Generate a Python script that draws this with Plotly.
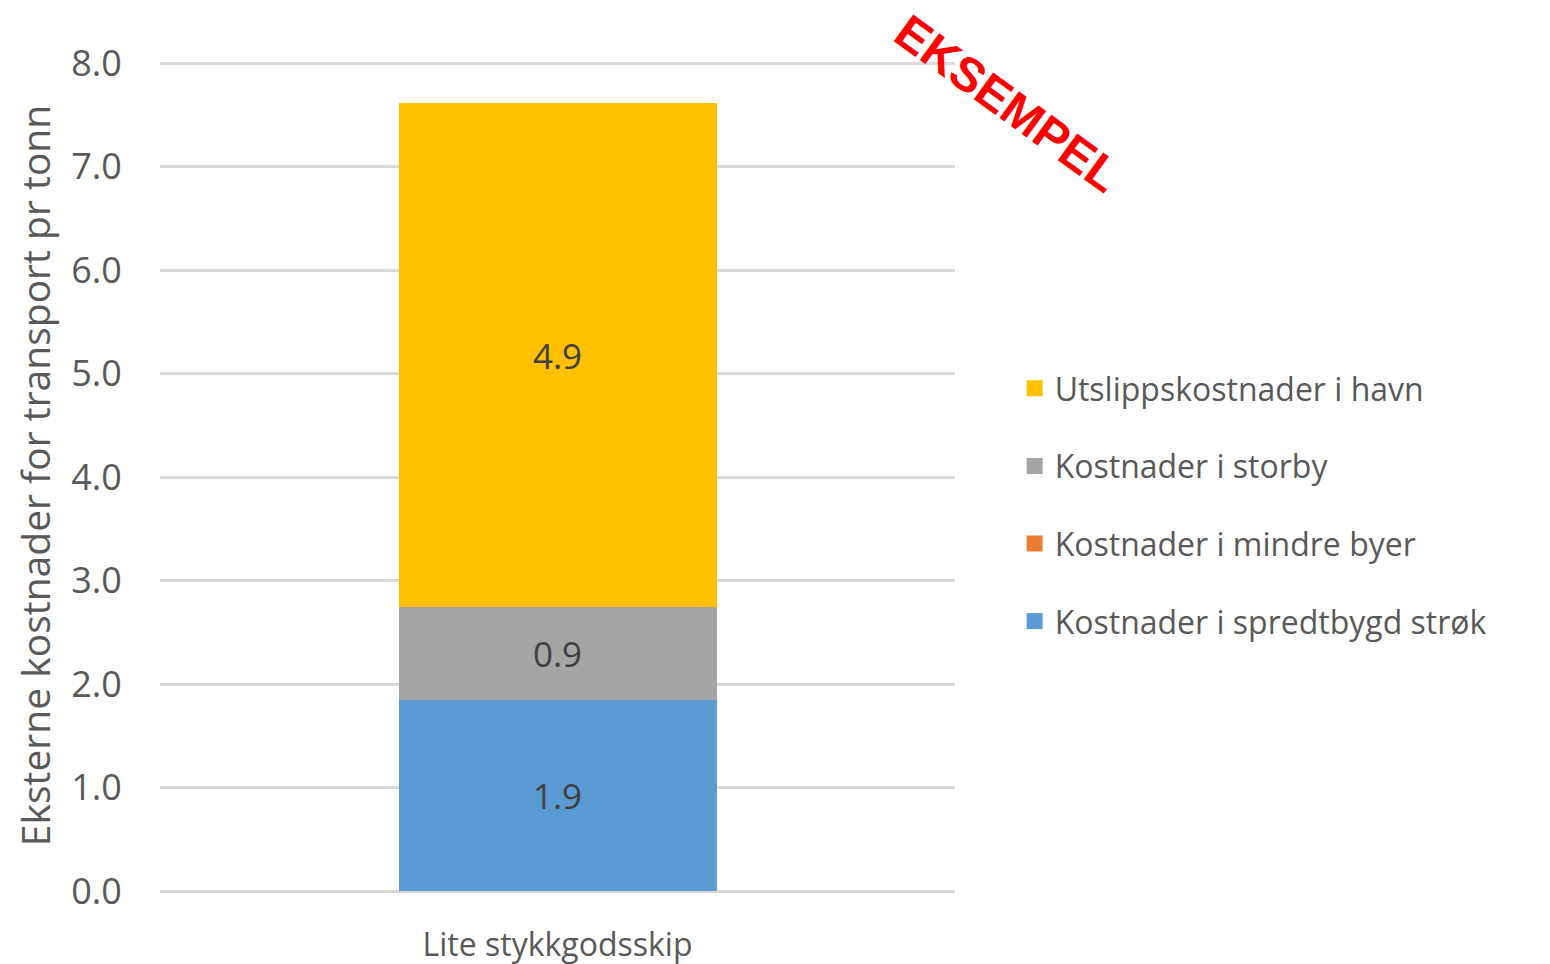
import plotly.graph_objects as go

categories = ["Lite stykkgodsskip"]
series_names = ["Kostnader i spredtbygd strøk", "Kostnader i mindre byer",
                "Kostnader i storby", "Utslippskostnader i havn"]
series_values = [[1.85], [0.0], [0.89], [4.87]]
series_colors = ["#5B9BD5", "#ED7D31", "#A5A5A5", "#FFC000"]
y_ticks = [0, 1, 2, 3, 4, 5, 6, 7, 8]
y_title = "Eksterne kostnader for transport pr tonn"
watermark = "EKSEMPEL"

FONT = "Open Sans"
fig = go.Figure()

for name, vals, col in zip(series_names, series_values, series_colors):
    fig.add_trace(go.Bar(
        x=categories, y=vals, name=name, marker=dict(color=col, line=dict(width=0)),
        text=[f"{v:.1f}" if v > 0.05 else "" for v in vals],
        textposition="inside", insidetextanchor="middle",
        textfont=dict(family=FONT, size=35, color="#404040"),
        showlegend=False, hoverinfo="skip",
    ))

# legend entries (top to bottom: reverse stack order)
for i, (name, col) in enumerate(reversed(list(zip(series_names, series_colors)))):
    fig.add_trace(go.Scatter(
        x=[None], y=[None], mode="markers", name=name, legendgroup=f"g{i}",
        marker=dict(symbol="square", size=22, color=col),
    ))

fig.add_annotation(
    text=f"<b>{watermark}</b>", xref="paper", yref="paper", x=1.0667, y=0.948,
    xanchor="center", yanchor="middle",
    showarrow=False, textangle=36,
    font=dict(family="Liberation Sans, Arial", size=48, color="#FF0000"),
)

fig.update_layout(
    width=1550, height=964,
    margin=dict(l=152, r=603, t=52, b=81, autoexpand=False),
    barmode="stack", bargap=0.6,
    plot_bgcolor="white", paper_bgcolor="white",
    font=dict(family=FONT, color="#595959"),
    legend=dict(x=1.075, y=0.4645, xanchor="left", yanchor="middle",
                traceorder="grouped", tracegroupgap=33,
                font=dict(family=FONT, size=32, color="#595959"),
                bgcolor="rgba(0,0,0,0)", itemwidth=30),
    xaxis=dict(showgrid=False, showline=False, zeroline=False, automargin=False,
               ticks="outside", ticklen=26, tickcolor="rgba(0,0,0,0)",
               tickfont=dict(family=FONT, size=32, color="#595959")),
    yaxis=dict(range=[0, 8.03], tickvals=y_ticks, tickformat=".1f", automargin=False,
               showgrid=True, gridcolor="#D9D9D9", gridwidth=2.5,
               zeroline=True, zerolinecolor="#D9D9D9", zerolinewidth=2.5,
               showline=False,
               ticks="outside", ticklen=30, tickcolor="rgba(0,0,0,0)",
               tickfont=dict(family=FONT, size=36, color="#595959")),
)
fig.update_yaxes(title=dict(text=y_title, standoff=10,
                            font=dict(family=FONT, size=39, color="#595959")))

fig.write_html("out.html")
